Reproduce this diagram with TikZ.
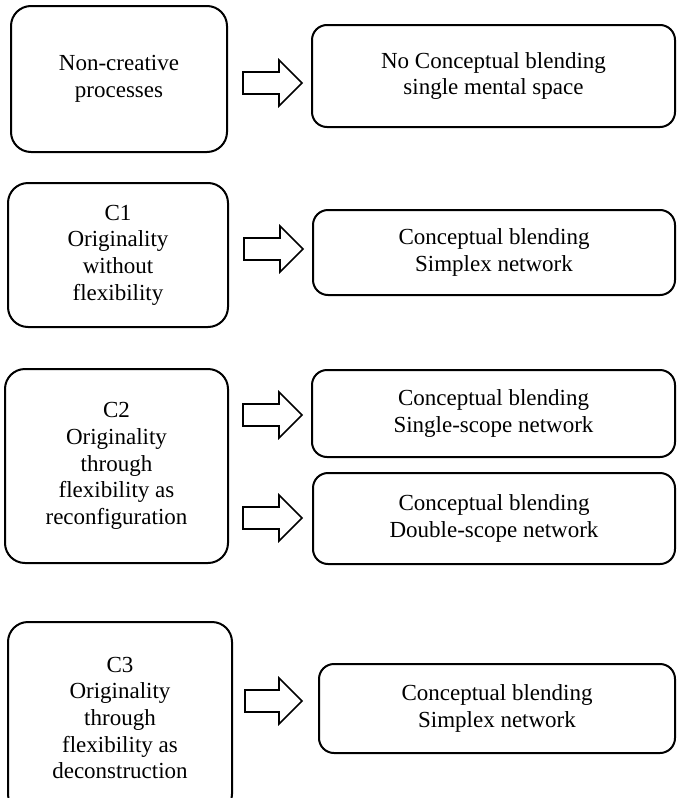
\documentclass[tikz,border=0pt]{standalone}
\usepackage{fontspec}
\setmainfont{Liberation Serif}
\usetikzlibrary{calc}
\tikzset{
  lbox/.style={draw, line width=2pt, rounded corners=20pt, align=center, inner sep=0pt,
    font=\fontsize{23}{26.7}\selectfont},
  rbox/.style={draw, line width=2pt, rounded corners=15pt, align=center, inner sep=0pt,
    font=\fontsize{23}{26.7}\selectfont},
  barrow/.style={draw, line width=1.6pt, fill=white, line join=miter}
}
\newcommand{\blockarr}[2]{%
  \draw[barrow] ($(#1)+(0,-11)$) -- ($(#2)+(-23,-11)$) -- ($(#2)+(-23,-23)$) -- (#2)
    -- ($(#2)+(-23,23)$) -- ($(#2)+(-23,11)$) -- ($(#1)+(0,11)$) -- cycle;}
\begin{document}
\begin{tikzpicture}[x=1pt,y=-1pt]
\clip (0,0) rectangle (677,798);
\fill[white] (0,0) rectangle (677,798);
% left boxes
\node[lbox, minimum width=216pt, minimum height=146pt] (n1) at (119,79) {Non-creative\\processes};
\node[lbox, minimum width=220pt, minimum height=144pt] (c1) at (118,255) {C1\\Originality\\without\\flexibility};
\node[lbox, minimum width=223pt, minimum height=194pt] (c2) at (116.5,466) {C2\\Originality\\through\\flexibility as\\reconfiguration};
\node[lbox, minimum width=224pt, minimum height=192pt] (c3) at (120,718) {C3\\Originality\\through\\flexibility as\\deconstruction};
% right boxes
\node[rbox, minimum width=363pt, minimum height=102pt] (r1) at (493.5,76) {No Conceptual blending\\single mental space};
\node[rbox, minimum width=362pt, minimum height=85pt] (r2) at (494,252.5) {Conceptual blending\\Simplex network};
\node[rbox, minimum width=363pt, minimum height=87pt] (r3a) at (493.5,413.5) {Conceptual blending\\Single-scope network};
\node[rbox, minimum width=362pt, minimum height=91pt] (r3b) at (494,518.5) {Conceptual blending\\Double-scope network};
\node[rbox, minimum width=356pt, minimum height=89pt] (r4) at (497,708.5) {Conceptual blending\\Simplex network};
% arrow ends
\coordinate (a1t) at (243,83);  \coordinate (a1h) at (302,83);
\coordinate (a2t) at (244,249); \coordinate (a2h) at (303,249);
\coordinate (a3t) at (243,415); \coordinate (a3h) at (302,415);
\coordinate (a4t) at (243,518); \coordinate (a4h) at (302,518);
\coordinate (a5t) at (245,701); \coordinate (a5h) at (302,701);
\blockarr{a1t}{a1h}
\blockarr{a2t}{a2h}
\blockarr{a3t}{a3h}
\blockarr{a4t}{a4h}
\blockarr{a5t}{a5h}
\end{tikzpicture}
\end{document}
